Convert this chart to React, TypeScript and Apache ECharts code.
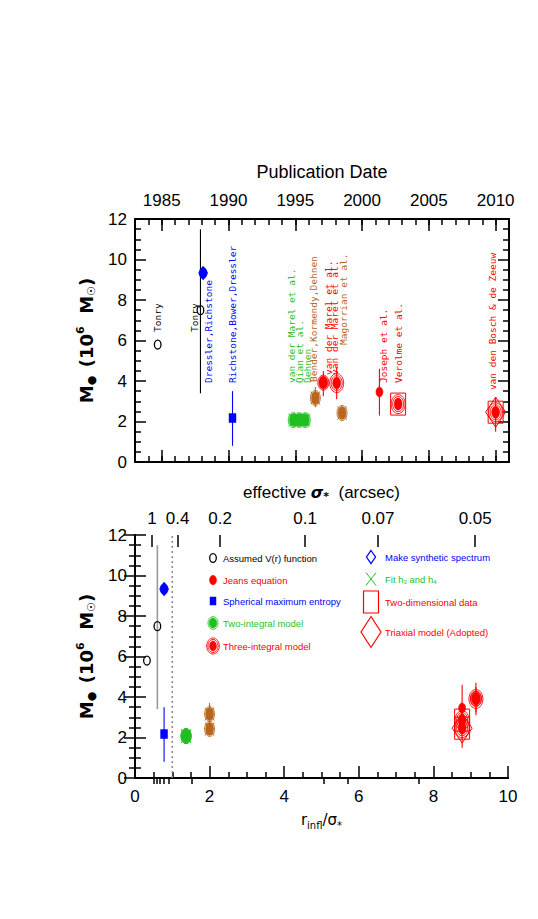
import React, { useEffect, useRef } from "react";
import * as echarts from "echarts";

// ---------------- data ----------------
const studyNames = [
  "Tonry", "Tonry", "Dressler,Richstone", "Richstone,Bower,Dressler",
  "van der Marel et al.", "Qian et al.", "Dehnen", "Bender,Kormendy,Dehnen",
  "van der Marel et al.", "van der Marel et al.", "Magorrian et al.",
  "Joseph et al.", "Verolme et al.", "van den Bosch & de Zeeuw",
];
const pubYear = [1984.7, 1987.9, 1988.1, 1990.3, 1994.85, 1995.3, 1995.75, 1996.5, 1997.1, 1998.1, 1998.5, 2001.3, 2002.7, 2010.0];
const rInflOverSigma = [0.32, 0.6, 0.78, 0.78, 1.37, 1.37, 1.37, 2.0, 9.14, 9.14, 2.0, 8.77, 8.77, 8.77];
const massBH = [5.8, 7.5, 9.33, 2.17, 2.07, 2.07, 2.07, 3.16, 3.92, 3.9, 2.42, 3.46, 2.86, 2.46];
const massLow = [null, 3.4, 9.05, 0.8, null, null, null, 2.7, 3.25, 3.1, null, 2.3, null, 1.5];
const massHigh = [null, 11.5, 9.6, 3.5, null, null, null, 3.7, 4.5, 4.7, null, 4.6, null, 3.2];
const method = [
  "assumedV", "assumedV", "synthetic", "maxEntropy", "twoIntegral", "twoIntegral", "twoIntegral",
  "twoIntegralB", "jeansRing", "threeIntegral", "twoIntegralB", "jeans", "twoDim", "triaxial",
];
// label anchors (data units: year, mass where the rotated text starts)
const labelYear = [1984.7, 1987.45, 1988.5, 1990.3, 1994.7, 1995.3, 1995.9, 1996.4, 1997.45, 1997.95, 1998.6, 2001.6, 2002.7, 2009.8];
const labelStartM = [6.42, 6.42, 3.9, 3.9, 3.9, 3.9, 3.9, 3.95, 4.3, 4.3, 5.78, 3.9, 3.9, 3.55];

const yearMajorTicks = [1985, 1990, 1995, 2000, 2005, 2010];
const rInflArcsec = 0.456;
const sigmaMajorTicks = [1, 0.4, 0.2, 0.1, 0.07, 0.05];
const sigmaMinorTicks = [0.9, 0.8, 0.7, 0.6, 0.5, 0.3, 0.09, 0.08, 0.06];
const referenceX = [1];

const legendCol1 = ["Assumed V(r) function", "Jeans equation", "Spherical maximum entropy", "Two-integral model", "Three-integral model"];
const legendCol1Kind = ["assumedV", "jeans", "maxEntropy", "twoIntegral", "threeIntegral"];
const legendCol2 = ["Make synthetic spectrum", "Fit h{s|3} and h{s|4}", "Two-dimensional data", "Triaxial model (Adopted)"];
const legendCol2Kind = ["diamond", "cross", "square", "bigDiamond"];

// ---------------- styles ----------------
const RED = "#ff0000";
const BLUE = "#0000ff";
const GREEN = "#1fbf1f";
const BROWN = "#b8651e";
const BLACK = "#000000";
const colorOf: Record<string, string> = {
  assumedV: BLACK, synthetic: BLUE, maxEntropy: BLUE, twoIntegral: GREEN, twoIntegralB: BROWN,
  jeans: RED, jeansRing: RED, threeIntegral: RED, twoDim: RED, triaxial: RED,
  diamond: BLUE, cross: GREEN, square: RED, bigDiamond: RED,
};
const AXF = '"Liberation Sans Narrow", "Liberation Sans", sans-serif';
const TXF = '"DejaVu Sans", sans-serif';
const LBF = '"DejaVu Sans Mono", monospace';
const LGF = '"Liberation Sans", sans-serif';

function ell(cx: number, cy: number, rx: number, ry: number, color: string, filled: boolean, lw = 1) {
  return {
    type: "ellipse",
    shape: { cx, cy, rx, ry },
    style: filled ? { fill: color, stroke: color, lineWidth: 0.5 } : { fill: "none", stroke: color, lineWidth: lw },
  };
}
function diamond(cx: number, cy: number, w: number, h: number, color: string, filled: boolean, lw = 1) {
  return {
    type: "polygon",
    shape: { points: [[cx, cy - h / 2], [cx + w / 2, cy], [cx, cy + h / 2], [cx - w / 2, cy]] },
    style: filled ? { fill: color, stroke: color, lineWidth: 0.5 } : { fill: "none", stroke: color, lineWidth: lw },
  };
}
function box(cx: number, cy: number, w: number, h: number, color: string, filled: boolean, lw = 1) {
  return {
    type: "rect",
    shape: { x: cx - w / 2, y: cy - h / 2, width: w, height: h },
    style: filled ? { fill: color, stroke: color, lineWidth: 0.5 } : { fill: "none", stroke: color, lineWidth: lw },
  };
}
function cross(cx: number, cy: number, w: number, h: number, color: string) {
  return [
    { type: "line", shape: { x1: cx - w / 2, y1: cy - h / 2, x2: cx + w / 2, y2: cy + h / 2 }, style: { stroke: color, lineWidth: 1 } },
    { type: "line", shape: { x1: cx - w / 2, y1: cy + h / 2, x2: cx + w / 2, y2: cy - h / 2 }, style: { stroke: color, lineWidth: 1 } },
  ];
}
function threeInt(cx: number, cy: number, c: string) {
  return [
    ell(cx, cy, 4, 6, c, true),
    ell(cx, cy, 5.5, 7.5, c, false, 0.9),
    ell(cx, cy, 7, 9.5, c, false, 0.9),
  ];
}
function markerShapes(kind: string, cx: number, cy: number): any[] {
  const c = colorOf[kind];
  switch (kind) {
    case "assumedV":
      return [ell(cx, cy, 3.3, 4.5, c, false, 1.3)];
    case "synthetic":
      return [diamond(cx, cy, 9, 14, c, true), ell(cx, cy, 4, 5.5, c, true)];
    case "maxEntropy":
      return [box(cx, cy, 7, 9, c, true)];
    case "twoIntegral":
    case "twoIntegralB":
      return [ell(cx, cy, 4, 6.5, c, true), ell(cx, cy, 5, 7.5, c, false, 0.9), ...cross(cx, cy, 9, 13, c)];
    case "jeans":
      return [ell(cx, cy, 3.5, 5, c, true)];
    case "jeansRing":
      return [ell(cx, cy, 4.5, 6.5, c, true), ell(cx, cy, 5.5, 7.5, c, false, 0.9)];
    case "threeIntegral":
      return threeInt(cx, cy, c);
    case "twoDim":
      return [...threeInt(cx, cy, c), box(cx, cy, 15, 22, c, false, 1)];
    case "triaxial":
      return [...threeInt(cx, cy, c), box(cx, cy, 15, 22, c, false, 1), diamond(cx, cy, 20, 30, c, false, 1)];
    case "diamond":
      return [diamond(cx, cy, 9, 13, c, false, 1.3)];
    case "cross":
      return cross(cx, cy, 10, 13, c);
    case "square":
      return [box(cx, cy, 15, 22, c, false, 1.2)];
    case "bigDiamond":
      return [diamond(cx, cy, 20, 31, c, false, 1.2)];
  }
  return [];
}
function legendMarker(kind: string, cx: number, cy: number): any[] {
  const c = colorOf[kind];
  switch (kind) {
    case "assumedV":
      return [ell(cx, cy, 3.3, 4.3, c, false, 1.3)];
    case "jeans":
      return [ell(cx, cy, 3.5, 4.8, c, true)];
    case "maxEntropy":
      return [box(cx, cy, 6, 8, c, true)];
    case "twoIntegral":
      return [ell(cx, cy, 3.8, 5, c, true), ell(cx, cy, 5, 6.3, c, false, 0.9)];
    case "threeIntegral":
      return [ell(cx, cy, 3.5, 5, c, true), ell(cx, cy, 5, 6.5, c, false, 0.9), ell(cx, cy, 6.3, 8, c, false, 0.9)];
    default:
      return markerShapes(kind, cx, cy);
  }
}

// ---------------- axes helpers ----------------
const axisLineStyle = { color: BLACK, width: 2 };
const tickStyle = { color: BLACK, width: 1.5 };
const numLabel = { fontFamily: AXF, fontSize: 17, color: BLACK };

function yAxes(gridIndex: number, withName: boolean) {
  const base = {
    type: "value", gridIndex, min: 0, max: 12, interval: 2,
    splitLine: { show: false },
    axisLine: { show: true, lineStyle: axisLineStyle },
    axisTick: { show: true, inside: true, length: 11, lineStyle: tickStyle },
    minorTick: { show: true, splitNumber: 4, length: 6, lineStyle: tickStyle },
  };
  return [
    {
      ...base, position: "left",
      axisLabel: { ...numLabel, margin: 8 },
      name: withName ? "{b|M}{s|●}  {b|(10}{p|6}{b|  M}{s|☉}{b|)}" : "",
      nameLocation: "middle", nameGap: 26, nameRotate: 90,
      nameTextStyle: {
        fontFamily: TXF, color: BLACK, fontWeight: "bold",
        rich: {
          b: { fontFamily: TXF, fontSize: 18, fontWeight: "bold", lineHeight: 22, verticalAlign: "middle" },
          s: { fontFamily: TXF, fontSize: 11, fontWeight: "bold", lineHeight: 22, verticalAlign: "bottom" },
          p: { fontFamily: TXF, fontSize: 11, fontWeight: "bold", lineHeight: 22, verticalAlign: "top" },
        },
      },
    },
    { ...base, position: "right", axisLabel: { show: false } },
  ];
}

export default function App() {
  const ref = useRef<HTMLDivElement>(null);
  useEffect(() => {
    if (!ref.current) return;
    const chart = echarts.init(ref.current, null, { renderer: "svg" });

    const idx = studyNames.map((_, i) => i);
    const topPoints = idx.map((i) => [pubYear[i], massBH[i], i]);
    const botPoints = idx.map((i) => [rInflOverSigma[i], massBH[i], i]);
    const withErr = idx.filter((i) => massLow[i] != null && massHigh[i] != null);
    const topErr = withErr.map((i) => [pubYear[i], massLow[i], massHigh[i], i]);
    const botErr = withErr.map((i) => [rInflOverSigma[i], massLow[i], massHigh[i], i]);
    const labels = idx.map((i) => [labelYear[i], labelStartM[i], i]);

    const errSeries = (data: any[], xAxisIndex: number, yAxisIndex: number, bottom: boolean) => ({
      type: "custom", xAxisIndex, yAxisIndex, data, z: 2,
      encode: { x: 0, y: [1, 2] },
      renderItem: (_p: any, api: any) => {
        const i = api.value(3);
        const a = api.coord([api.value(0), api.value(1)]);
        const b = api.coord([api.value(0), api.value(2)]);
        let c = colorOf[method[i]];
        if (bottom && method[i] === "assumedV") c = "#9a9a9a";
        return { type: "line", shape: { x1: a[0], y1: a[1], x2: b[0], y2: b[1] }, style: { stroke: c, lineWidth: bottom && method[i] === "assumedV" ? 1.6 : 1.1 } };
      },
    });
    const markerSeries = (data: any[], xAxisIndex: number, yAxisIndex: number) => ({
      type: "custom", xAxisIndex, yAxisIndex, data, z: 3,
      encode: { x: 0, y: 1 },
      renderItem: (_p: any, api: any) => {
        const i = api.value(2);
        const p = api.coord([api.value(0), api.value(1)]);
        return { type: "group", children: markerShapes(method[i], p[0], p[1]) };
      },
    });

    const legendEls: any[] = [];
    const c1x = 213, c1t = 223, c1y = [558, 580, 601, 623, 646];
    legendCol1.forEach((t, k) => {
      legendEls.push(...legendMarker(legendCol1Kind[k], c1x, c1y[k]));
      legendEls.push({ type: "text", x: c1t, y: c1y[k], style: { text: t, fill: colorOf[legendCol1Kind[k]], font: `9.5px ${LGF}`, verticalAlign: "middle", align: "left" } });
    });
    const c2x = 371, c2t = 385, c2y = [557, 579, 602, 632];
    legendCol2.forEach((t, k) => {
      legendEls.push(...legendMarker(legendCol2Kind[k], c2x, c2y[k]));
      legendEls.push({
        type: "text", x: c2t, y: c2y[k],
        style: {
          text: t, fill: colorOf[legendCol2Kind[k]], fontFamily: LGF, fontSize: 9.5, verticalAlign: "middle", align: "left",
          rich: { s: { fontFamily: LGF, fontSize: 6, fill: colorOf[legendCol2Kind[k]], padding: [6, 0, 0, 0] } },
        },
      });
    });

    const option: any = {
      animation: false,
      backgroundColor: "#ffffff",
      grid: [
        { left: 135, top: 219, width: 374, height: 243 },
        { left: 135, top: 535, width: 373, height: 243 },
      ],
      xAxis: [
        {
          type: "value", gridIndex: 0, min: 1983, max: 2011, interval: 1, position: "bottom",
          splitLine: { show: false }, axisLine: { show: true, lineStyle: axisLineStyle },
          axisTick: { show: true, inside: true, length: 6, lineStyle: tickStyle }, axisLabel: { show: false },
        },
        {
          type: "value", gridIndex: 0, min: 1983, max: 2011, position: "bottom",
          splitLine: { show: false }, axisLine: { show: false },
          axisTick: { show: true, inside: true, length: 12, lineStyle: tickStyle, customValues: yearMajorTicks },
          axisLabel: { show: false },
        },
        {
          type: "value", gridIndex: 0, min: 1983, max: 2011, interval: 1, position: "top",
          splitLine: { show: false }, axisLine: { show: true, lineStyle: axisLineStyle },
          axisTick: { show: true, inside: true, length: 6, lineStyle: tickStyle }, axisLabel: { show: false },
        },
        {
          type: "value", gridIndex: 0, min: 1983, max: 2011, position: "top",
          splitLine: { show: false }, axisLine: { show: false },
          axisTick: { show: true, inside: true, length: 12, lineStyle: tickStyle, customValues: yearMajorTicks },
          axisLabel: { ...numLabel, margin: 10, customValues: yearMajorTicks, formatter: (v: number) => String(Math.round(v)) },
          name: "Publication Date", nameLocation: "middle", nameGap: 38,
          nameTextStyle: { fontFamily: AXF, fontSize: 18, color: BLACK },
        },
        {
          type: "value", gridIndex: 1, min: 0, max: 10, interval: 2, position: "bottom",
          splitLine: { show: false }, axisLine: { show: true, lineStyle: axisLineStyle },
          axisTick: { show: true, inside: true, length: 12, lineStyle: tickStyle },
          minorTick: { show: true, splitNumber: 4, length: 6, lineStyle: tickStyle },
          axisLabel: { ...numLabel, margin: 10 },
          name: "{b|r}{s|infl}{b|/σ}{s|*}", nameLocation: "middle", nameGap: 32,
          nameTextStyle: {
            color: BLACK,
            rich: {
              b: { fontFamily: TXF, fontSize: 15, lineHeight: 20, verticalAlign: "middle" },
              s: { fontFamily: TXF, fontSize: 10, lineHeight: 20, verticalAlign: "bottom" },
            },
          },
        },
        {
          type: "value", gridIndex: 1, min: 0, max: 10, position: "top",
          splitLine: { show: false }, axisLine: { show: true, lineStyle: axisLineStyle },
          axisTick: { show: true, inside: true, length: 6, lineStyle: tickStyle, customValues: sigmaMinorTicks.map((s) => rInflArcsec / s) },
          axisLabel: { show: false },
        },
        {
          type: "value", gridIndex: 1, min: 0, max: 10, position: "top",
          splitLine: { show: false }, axisLine: { show: false },
          axisTick: { show: true, inside: true, length: 12, lineStyle: tickStyle, customValues: sigmaMajorTicks.map((s) => rInflArcsec / s) },
          axisLabel: {
            ...numLabel, margin: 8, customValues: sigmaMajorTicks.map((s) => rInflArcsec / s),
            formatter: (v: number) => {
              let best = sigmaMajorTicks[0];
              sigmaMajorTicks.forEach((s) => { if (Math.abs(rInflArcsec / s - v) < Math.abs(rInflArcsec / best - v)) best = s; });
              return String(best);
            },
          },
          name: "effective {g|σ}{s|*}  (arcsec)", nameLocation: "middle", nameGap: 33,
          nameTextStyle: {
            fontFamily: AXF, fontSize: 17, color: BLACK,
            rich: {
              g: { fontFamily: TXF, fontSize: 16, fontStyle: "italic", fontWeight: "bold", lineHeight: 20, verticalAlign: "middle" },
              s: { fontFamily: TXF, fontSize: 11, fontWeight: "bold", lineHeight: 20, verticalAlign: "bottom" },
            },
          },
        },
      ],
      yAxis: [...yAxes(0, true), ...yAxes(1, true)],
      series: [
        errSeries(topErr, 0, 0, false),
        markerSeries(topPoints, 0, 0),
        {
          type: "custom", xAxisIndex: 0, yAxisIndex: 0, data: labels, z: 4,
          encode: { x: 0, y: 1 },
          renderItem: (_p: any, api: any) => {
            const i = api.value(2);
            const p = api.coord([api.value(0), api.value(1)]);
            return {
              type: "text", x: p[0], y: p[1], rotation: Math.PI / 2,
              style: { text: studyNames[i], fill: colorOf[method[i]], font: `9.5px ${LBF}`, align: "left", verticalAlign: "middle" },
            };
          },
        },
        {
          type: "custom", xAxisIndex: 4, yAxisIndex: 2, data: referenceX.map((x) => [x, 0, 12]), z: 1,
          encode: { x: 0, y: [1, 2] },
          renderItem: (_p: any, api: any) => {
            const a = api.coord([api.value(0), api.value(1)]);
            const b = api.coord([api.value(0), api.value(2)]);
            return { type: "line", shape: { x1: a[0], y1: a[1], x2: b[0], y2: b[1] }, style: { stroke: "#888888", lineWidth: 1.5, lineDash: [2, 3] } };
          },
        },
        errSeries(botErr, 4, 2, true),
        markerSeries(botPoints, 4, 2),
      ],
      graphic: { elements: legendEls },
    };
    chart.setOption(option);
    return () => chart.dispose();
  }, []);
  return <div ref={ref} style={{ position: "absolute", left: 0, top: 0, width: 538, height: 919 }} />;
}
